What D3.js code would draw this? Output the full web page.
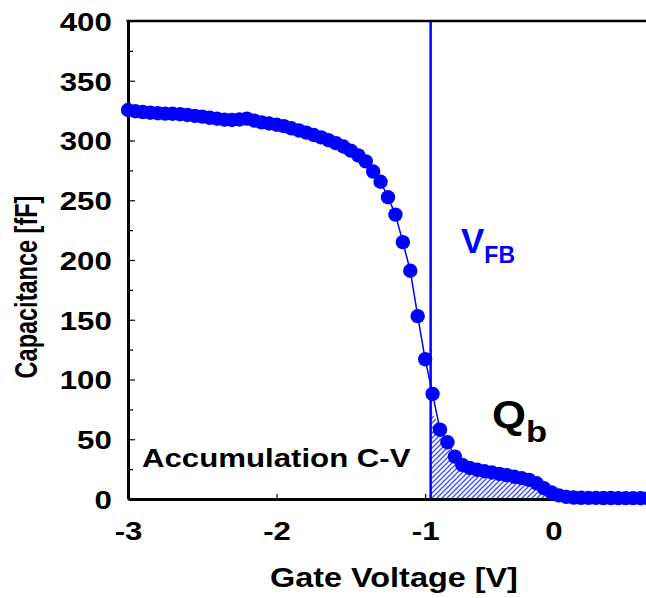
<!DOCTYPE html>
<html>
<head>
<meta charset="utf-8">
<script src="https://cdn.jsdelivr.net/npm/d3@7"></script>
<style>
  body { margin: 0; background: #fff; }
  text { font-family: "Liberation Sans", Arial, sans-serif; font-weight: bold; }
</style>
</head>
<body>
<div id="chart"></div>
<script>
// gate voltage sweep [V] and measured capacitance [fF]
var gateVoltage = [
  -3.00, -2.95, -2.90, -2.85, -2.80, -2.75, -2.70, -2.65, -2.60, -2.55,
  -2.50, -2.45, -2.40, -2.35, -2.30, -2.25, -2.20, -2.15, -2.10, -2.05,
  -2.00, -1.95, -1.90, -1.85, -1.80, -1.75, -1.70, -1.65, -1.60, -1.55,
  -1.50, -1.45, -1.40, -1.35, -1.30, -1.25, -1.20, -1.15, -1.10, -1.05,
  -1.00, -0.95, -0.90, -0.85, -0.80, -0.75, -0.70, -0.65, -0.60, -0.55,
  -0.50, -0.45, -0.40, -0.35, -0.30, -0.25, -0.20, -0.15, -0.10, -0.05,
   0.00,  0.05,  0.10,  0.15,  0.20,  0.25,  0.30,  0.35,  0.40,  0.45, 0.50
];
var capacitance = [
  325.5, 324.5, 323.8, 323.2, 322.8, 322.5, 322.4, 322.0, 321.4, 320.6,
  320.0, 319.0, 318.2, 317.5, 317.2, 317.6, 318.3, 316.6, 315.2, 314.2,
  313.2, 312.0, 310.2, 308.4, 306.6, 304.6, 302.6, 300.2, 297.8, 295.0,
  291.5, 287.5, 282.5, 274.0, 265.5, 252.5, 238.0, 215.0, 191.0, 153.0,
  117.0, 88.0, 58.0, 47.5, 35.5, 28.5, 26.0, 24.5, 23.2, 22.2,
  21.0, 20.0, 18.6, 17.5, 16.0, 13.2, 9.0, 5.5, 3.0, 1.8,
  1.2, 1.0, 0.9, 0.9, 0.8, 0.8, 0.7, 0.7, 0.7, 0.6, 0.6
];

// flat-band voltage and the hatched Qb region outline
var vfb = -0.963;
var qbVoltage = [-0.963, -0.95, -0.877, -0.787, -0.742, -0.517, -0.293, -0.226, -0.181, -0.158];
var qbUpper   = [74, 72, 55, 26, 24, 19, 16, 10, 5, 0];

// axis ticks
var xTicks = [-3, -2, -1, 0];
var yTicks = [0, 50, 100, 150, 200, 250, 300, 350, 400];
var yMinorTicks = [25, 75, 125, 175, 225, 275, 325, 375];

var svgWidth = 646;
var svgHeight = 598;

var svg = d3.select("#chart")
  .append("svg")
  .attr("width", svgWidth)
  .attr("height", svgHeight);

var x = d3.scaleLinear().domain([-3, 0.5]).range([128, 648]);
var y = d3.scaleLinear().domain([0, 400]).range([499, 21]);

var blue = "#0000ff";
var stretch = 1.2; // the original figure is widened horizontally

// hatch pattern
var defs = svg.append("defs");
defs.append("pattern")
  .attr("id", "hatch")
  .attr("patternUnits", "userSpaceOnUse")
  .attr("width", 5)
  .attr("height", 5)
  .append("path")
  .attr("d", "M-1,1 l2,-2 M0,5 l5,-5 M4,6 l2,-2")
  .attr("stroke", "#3a4cff")
  .attr("stroke-width", 1.3);

var qbData = qbVoltage.map((v, i) => ({ v: v, c: qbUpper[i] }));
svg.append("path")
  .datum(qbData)
  .attr("fill", "url(#hatch)")
  .attr("d", d3.area().x(d => x(d.v)).y0(y(0)).y1(d => y(d.c)));

// VFB line
svg.append("line")
  .attr("x1", x(vfb)).attr("x2", x(vfb))
  .attr("y1", y(400)).attr("y2", y(0))
  .attr("stroke", blue)
  .attr("stroke-width", 2.5);

// axes
var bottomAxis = d3.axisBottom(x).tickValues(xTicks).tickSizeInner(-5).tickSizeOuter(0).tickFormat(d3.format("d"));
var leftAxis = d3.axisLeft(y).tickValues(yTicks).tickSizeInner(-7).tickSizeOuter(0);
var leftMinor = d3.axisLeft(y).tickValues(yMinorTicks).tickSizeInner(-5).tickSizeOuter(0).tickFormat("");

var gx = svg.append("g")
  .attr("transform", `translate(0, ${y(0)})`)
  .call(bottomAxis);
gx.select(".domain").attr("stroke-width", 3);
gx.selectAll(".tick line").attr("stroke-width", 1.2);
gx.selectAll(".tick text")
  .attr("y", 41)
  .attr("dy", 0)
  .attr("font-size", 26)
  .attr("fill", "#000")
  .attr("font-family", null)
  .attr("transform", `scale(${stretch},1)`)
  .text(d => d3.format("d")(d).replace("\u2212", "-"))
  .filter(d => d === 0)
  .attr("x", -17);

var gy = svg.append("g")
  .attr("transform", `translate(${x(-3)}, 0)`)
  .call(leftAxis);
gy.select(".domain").attr("stroke-width", 3);
gy.selectAll(".tick line").attr("stroke-width", 1.2);
gy.selectAll(".tick text")
  .attr("x", -13.5)
  .attr("dy", "0.36em")
  .attr("font-size", 26)
  .attr("fill", "#000")
  .attr("font-family", null)
  .attr("transform", `scale(${stretch},1)`);

var gyMinor = svg.append("g")
  .attr("transform", `translate(${x(-3)}, 0)`)
  .call(leftMinor);
gyMinor.select(".domain").remove();
gyMinor.selectAll(".tick line").attr("stroke-width", 1.2);

// top border
svg.append("line")
  .attr("x1", x(-3) - 1.5).attr("x2", svgWidth)
  .attr("y1", y(400)).attr("y2", y(400))
  .attr("stroke", "#000")
  .attr("stroke-width", 2.5);

// data line and points
var points = gateVoltage.map((v, i) => ({ v: v, c: capacitance[i] }));
svg.append("path")
  .datum(points)
  .attr("fill", "none")
  .attr("stroke", blue)
  .attr("stroke-width", 1.5)
  .attr("d", d3.line().x(d => x(d.v)).y(d => y(d.c)));

svg.selectAll("circle.pt")
  .data(points)
  .enter()
  .append("circle")
  .attr("class", "pt")
  .attr("cx", d => x(d.v))
  .attr("cy", d => y(d.c))
  .attr("r", 7.2)
  .attr("fill", blue);

// axis titles
svg.append("text")
  .attr("transform", `translate(394, 587) scale(${stretch},1)`)
  .attr("text-anchor", "middle")
  .attr("font-size", 27)
  .text("Gate Voltage [V]");

svg.append("text")
  .attr("transform", `translate(37, 287) scale(1.3,1) rotate(-90)`)
  .attr("text-anchor", "middle")
  .attr("font-size", 23.5)
  .text("Capacitance [fF]");

// annotations
svg.append("text")
  .attr("transform", `translate(142, 467) scale(${stretch},1)`)
  .attr("font-size", 26)
  .text("Accumulation C-V");

var qb = svg.append("text")
  .attr("transform", `translate(492, 428) scale(1.15,1)`)
  .attr("font-size", 38);
qb.append("tspan").text("Q");
qb.append("tspan").attr("font-size", 30).attr("dy", 14).text("b");

var vfbLabel = svg.append("text")
  .attr("transform", "translate(461, 253)")
  .attr("font-size", 35)
  .attr("fill", blue);
vfbLabel.append("tspan").text("V");
vfbLabel.append("tspan").attr("font-size", 23).attr("dy", 10).text("FB");
</script>
</body>
</html>
